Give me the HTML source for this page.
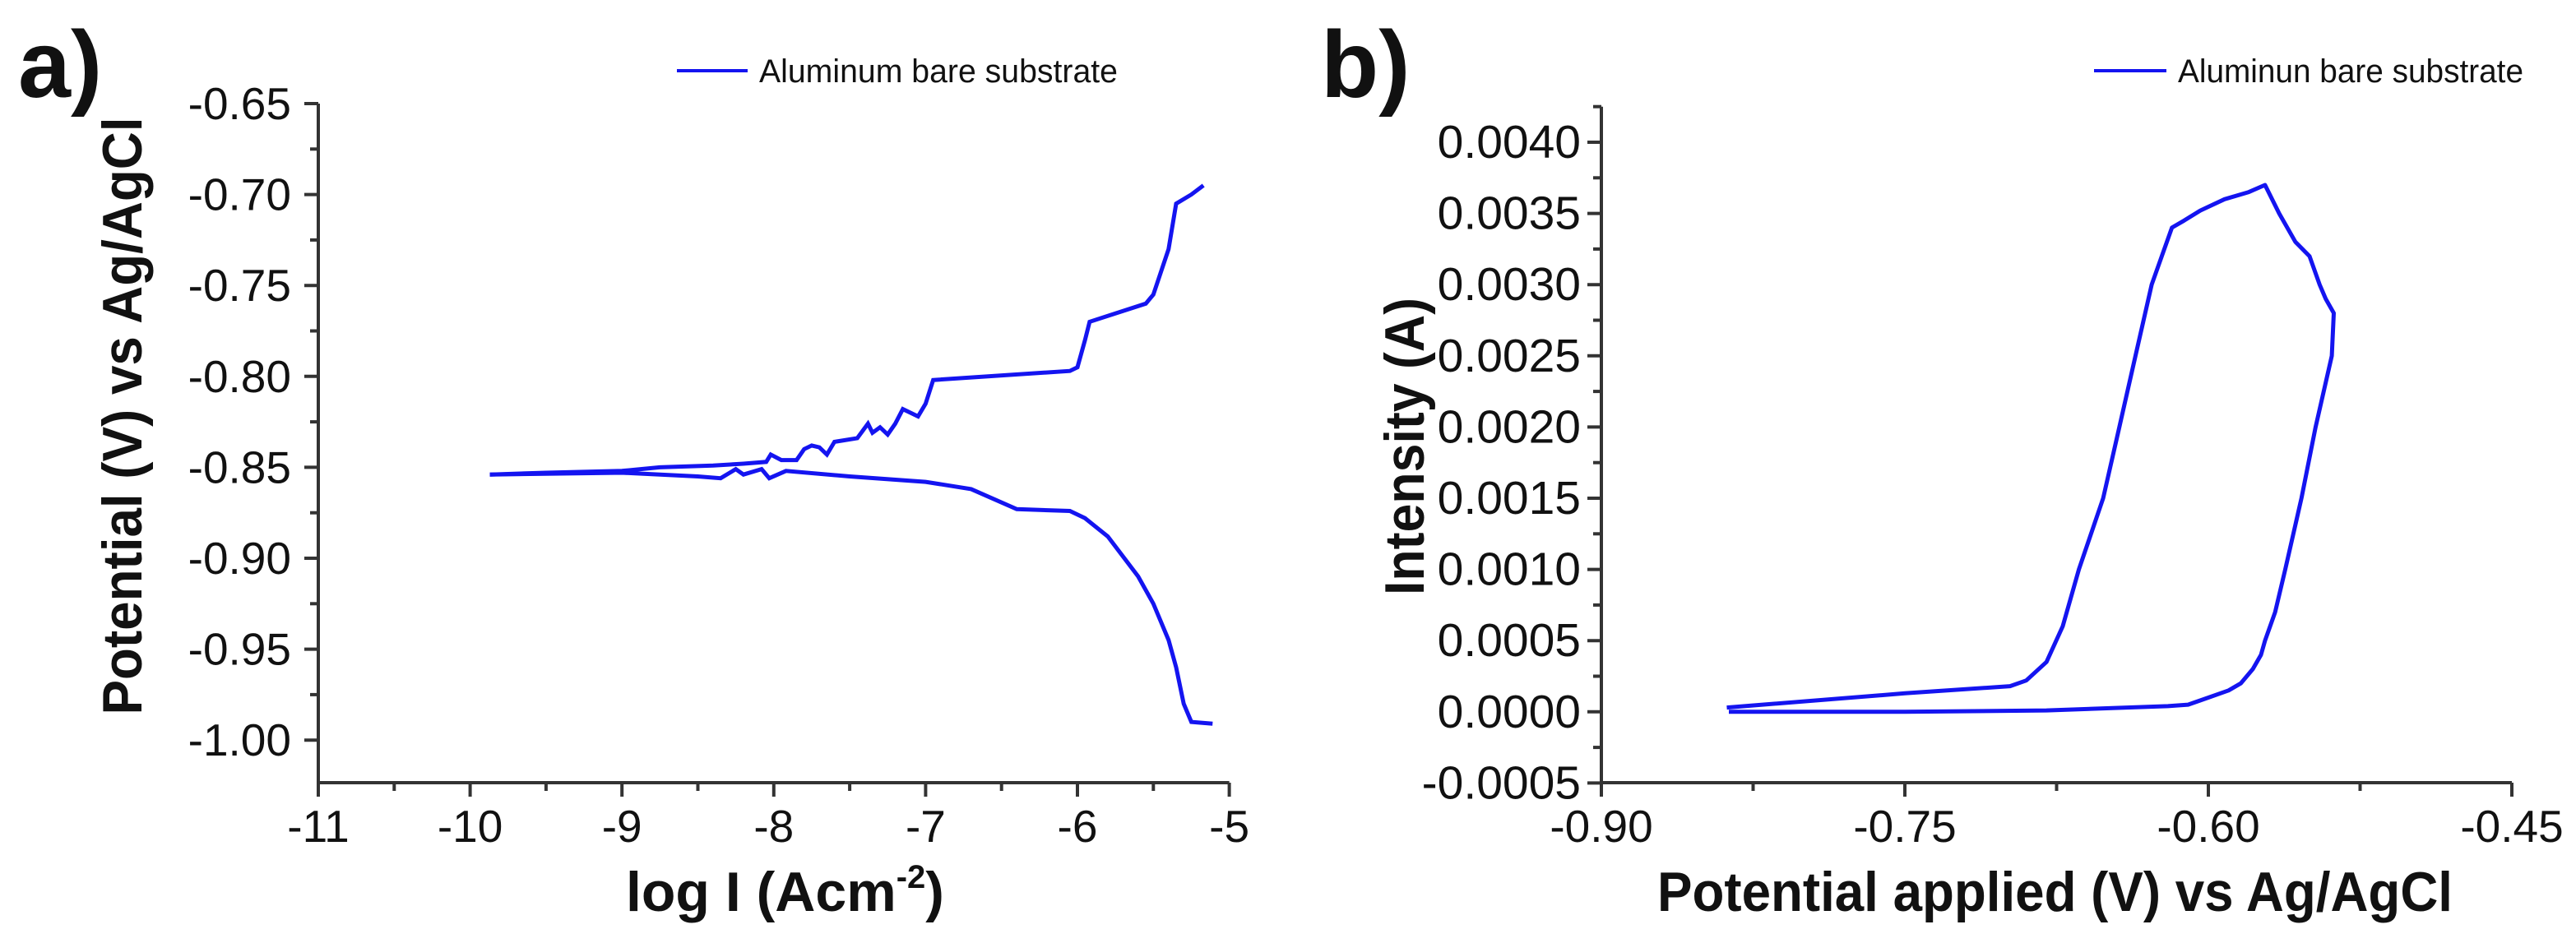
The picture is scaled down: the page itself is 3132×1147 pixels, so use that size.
<!DOCTYPE html>
<html><head><meta charset="utf-8"><style>
html,body{margin:0;padding:0;background:#fff;}
svg{display:block;}
text{font-family:"Liberation Sans",sans-serif;fill:#111;}
</style></head><body>
<svg id="fig" width="3132" height="1147" viewBox="0 0 3132 1147" xmlns="http://www.w3.org/2000/svg">
<text x="22" y="118" font-size="115" font-weight="bold">a)</text>
<text x="1606" y="118" font-size="115" font-weight="bold">b)</text>
<g id="pa"></g>
<g id="pb"></g>
</svg>
<script>
// Panel a data (log I, potential)
const aCathX = [-9.87,-9.0,-8.5,-8.35,-8.25,-8.2,-8.08,-8.03,-7.92,-7.5,-7.0,-6.7,-6.4,-6.05,-5.95,-5.8,-5.6,-5.5,-5.4,-5.35,-5.3,-5.25,-5.11];
const aCathY = [-0.854,-0.853,-0.855,-0.856,-0.851,-0.854,-0.851,-0.856,-0.852,-0.855,-0.858,-0.862,-0.873,-0.874,-0.878,-0.888,-0.91,-0.925,-0.945,-0.96,-0.98,-0.99,-0.991];
const aAnodX = [-9.87,-9.5,-9.0,-8.75,-8.4,-8.2,-8.05,-8.02,-7.95,-7.85,-7.8,-7.75,-7.7,-7.65,-7.6,-7.45,-7.38,-7.35,-7.3,-7.25,-7.2,-7.15,-7.1,-7.05,-7.0,-6.95,-6.05,-6.0,-5.95,-5.92,-5.55,-5.5,-5.4,-5.35,-5.25,-5.17];
const aAnodY = [-0.854,-0.853,-0.852,-0.85,-0.849,-0.848,-0.847,-0.843,-0.846,-0.846,-0.84,-0.838,-0.839,-0.843,-0.836,-0.834,-0.826,-0.831,-0.828,-0.832,-0.826,-0.818,-0.82,-0.822,-0.815,-0.802,-0.797,-0.795,-0.78,-0.77,-0.76,-0.755,-0.73,-0.705,-0.7,-0.695];
const aXTicks = [-11,-10,-9,-8,-7,-6,-5];
const aYTicks = [-0.65,-0.70,-0.75,-0.80,-0.85,-0.90,-0.95,-1.00];
// Panel b data (potential, current)
const bX = [-0.837,-0.75,-0.68,-0.62,-0.610,-0.600,-0.590,-0.584,-0.578,-0.574,-0.572,-0.567,-0.562,-0.554,-0.547,-0.539,-0.538,-0.542,-0.545,-0.550,-0.557,-0.565,-0.572,-0.580,-0.592,-0.604,-0.612,-0.618,-0.623,-0.628,-0.636,-0.644,-0.652,-0.664,-0.672,-0.680,-0.690,-0.698,-0.75,-0.838];
const bY = [0,0,0.00001,0.00004,0.00005,0.0001,0.00015,0.0002,0.0003,0.0004,0.0005,0.0007,0.001,0.0015,0.002,0.0025,0.0028,0.0029,0.003,0.0032,0.0033,0.0035,0.0037,0.00365,0.0036,0.00352,0.00345,0.0034,0.0032,0.003,0.0025,0.002,0.0015,0.001,0.0006,0.00035,0.00022,0.00018,0.00013,0.00003];
const bXTicks = [-0.90,-0.75,-0.60,-0.45];
const bYTicks = [-0.0005,0,0.0005,0.001,0.0015,0.002,0.0025,0.003,0.0035,0.004];

const NS="http://www.w3.org/2000/svg";
function mk(parent,tag,attrs){const e=document.createElementNS(NS,tag);for(const k in attrs)e.setAttribute(k,attrs[k]);parent.appendChild(e);return e;}

// Panel a axes
const pa=document.getElementById('pa');
const axL=387, axB=952;
const axX=v=>axL+(v+11)*184.6;
const axY=v=>126+(v+0.65)/-0.05*110.6;
const ax=mk(pa,'path',{d:`M${axL} ${axY(-0.65)} V${axB} H${axX(-5)}`,fill:'none',stroke:'#333',"stroke-width":4});


for(let v=-11;v<=-5.001;v+=0.5){const maj=Math.abs(v-Math.round(v))<1e-6;mk(pa,'line',{x1:axX(v),x2:axX(v),y1:axB,y2:axB+(maj?17:10),stroke:'#333',"stroke-width":4});}
mk(pa,'line',{x1:axX(-5),x2:axX(-5),y1:axB,y2:axB+17,stroke:'#333',"stroke-width":4});
for(let i=0;i<=14;i++){const v=-0.65-i*0.025;mk(pa,'line',{x1:axL,x2:axL-(i%2?10:17),y1:axY(v),y2:axY(v),stroke:'#333',"stroke-width":4});}
aXTicks.forEach(v=>{const t=mk(pa,'text',{x:axX(v),y:1024,"font-size":55,"text-anchor":"middle"});t.textContent=String(v);

});
aYTicks.forEach(v=>{const t=mk(pa,'text',{x:354,y:axY(v)+19,"font-size":55,"text-anchor":"end"});t.textContent=v.toFixed(2);

});
const pts=(xs,ys,fx,fy)=>xs.map((x,i)=>fx(x).toFixed(1)+','+fy(ys[i]).toFixed(1)).join(' ');
const c1=mk(pa,'polyline',{points:pts(aCathX,aCathY,axX,axY),fill:'none',stroke:'#1414f0',"stroke-width":5});


const c2=mk(pa,'polyline',{points:pts(aAnodX,aAnodY,axX,axY),fill:'none',stroke:'#1414f0',"stroke-width":5});


let t=mk(pa,'text',{x:148,y:506,"font-size":68,"font-weight":"bold","text-anchor":"middle",transform:"rotate(-90 148 506)",dy:24,textLength:727,lengthAdjust:"spacingAndGlyphs"});t.textContent='Potential (V) vs Ag/AgCl';


t=mk(pa,'text',{x:761,y:1108,"font-size":68,"font-weight":"bold"});t.innerHTML='log I (Acm<tspan dy="-28" font-size="40">-2</tspan><tspan dy="28">)</tspan>';


let lg=mk(pa,'line',{x1:823,x2:909,y1:86,y2:86,stroke:'#1414f0',"stroke-width":4});


t=mk(pa,'text',{x:923,y:100,"font-size":40,textLength:436,lengthAdjust:"spacingAndGlyphs"});t.textContent='Aluminum bare substrate';



// Panel b
const pb=document.getElementById('pb');
const bL=1947;
const bxX=v=>bL+(v+0.9)*2460;
const byY=v=>173+(0.004-v)/0.0005*86.6;
const ax2=mk(pb,'path',{d:`M${bL} ${byY(0.00425)} V${axB} H${bxX(-0.45)}`,fill:'none',stroke:'#333',"stroke-width":4});


for(let i=0;i<=6;i++){const v=-0.9+i*0.075;mk(pb,'line',{x1:bxX(v),x2:bxX(v),y1:axB,y2:axB+(i%2?10:17),stroke:'#333',"stroke-width":4});}
for(let i=0;i<=19;i++){const v=-0.0005+i*0.00025;mk(pb,'line',{x1:bL,x2:bL-(i%2?10:17),y1:byY(v),y2:byY(v),stroke:'#333',"stroke-width":4});}
bXTicks.forEach(v=>{const e=mk(pb,'text',{x:bxX(v),y:1024,"font-size":55,"text-anchor":"middle"});e.textContent=v.toFixed(2);

});
bYTicks.forEach(v=>{const e=mk(pb,'text',{x:1922,y:byY(v)+19,"font-size":57,"text-anchor":"end"});e.textContent=v.toFixed(4);

});
const c3=mk(pb,'polyline',{points:pts(bX,bY,bxX,byY),fill:'none',stroke:'#1414f0',"stroke-width":5,"stroke-linejoin":"round"});


t=mk(pb,'text',{x:1707,y:543,"font-size":68,"font-weight":"bold","text-anchor":"middle",transform:"rotate(-90 1707 543)",dy:24,textLength:362,lengthAdjust:"spacingAndGlyphs"});t.textContent='Intensity (A)';


t=mk(pb,'text',{x:2015,y:1108,"font-size":68,"font-weight":"bold",textLength:967,lengthAdjust:"spacingAndGlyphs"});t.textContent='Potential applied (V) vs Ag/AgCl';


lg=mk(pb,'line',{x1:2546,x2:2634,y1:86,y2:86,stroke:'#1414f0',"stroke-width":4});


t=mk(pb,'text',{x:2648,y:100,"font-size":40,textLength:420,lengthAdjust:"spacingAndGlyphs"});t.textContent='Aluminun bare substrate';


</script>
</body></html>
